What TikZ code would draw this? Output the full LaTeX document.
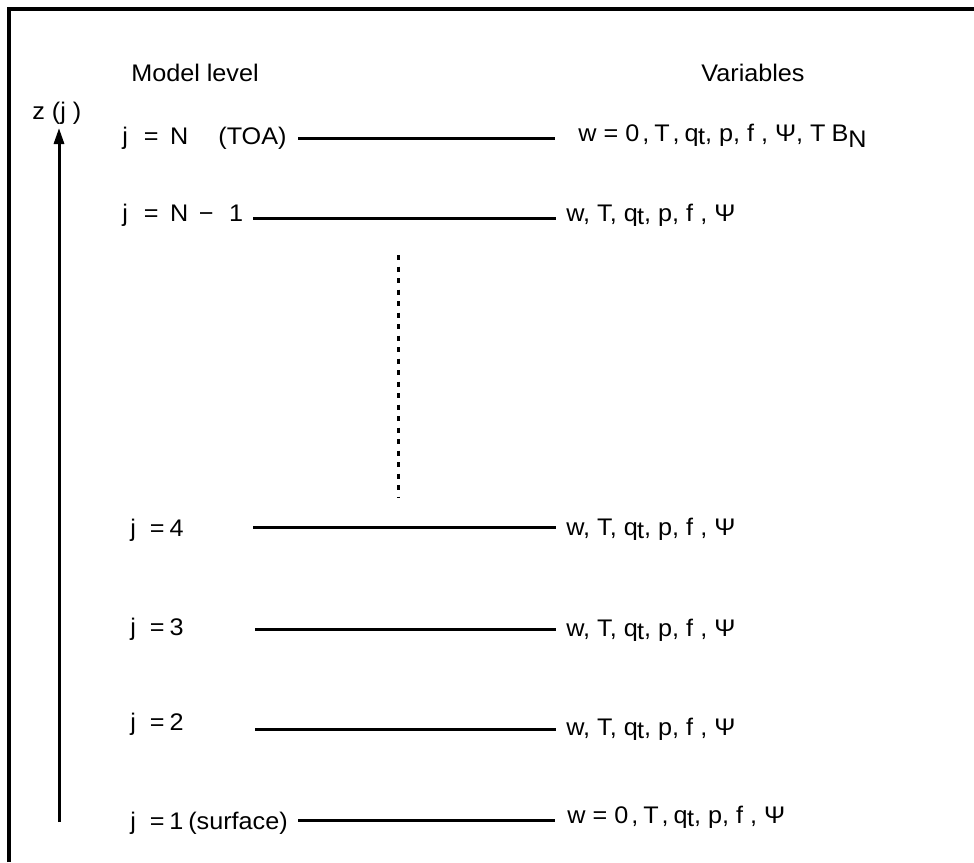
\documentclass[tikz,border=0pt]{standalone}
\usepackage{fontspec}
\setmainfont{Liberation Sans}[FakeStretch=1.05]
\usetikzlibrary{arrows.meta}

\tikzset{
  txt/.style={inner sep=0pt, anchor=base west, font=\fontsize{12pt}{14pt}\selectfont},
  level/.style={line width=1.5pt},
}
\newcommand{\qtsym}{q\kern-0.3pt\raisebox{-1.5pt}{t}}

\begin{document}
\begin{tikzpicture}[x=0.5pt, y=-0.5pt]
			\useasboundingbox (0,0) rectangle (974,862);
			% Frame (cut at right and bottom)
			\draw[line width=1.75pt] (9,862) -- (9,9) -- (974,9);
			% Headings
			\node[txt, anchor=base] (hlev) at (195,81) {Model level};
			\node[txt, anchor=base] (hvar) at (753,81) {Variables};
			% Height axis
			\node[txt] (zj) at (32,119) {z (j )};
			\coordinate (zbot) at (59,822);
			\coordinate (ztop) at (59,128);
			\draw[line width=1.5pt, -{Triangle[length=8pt, width=5pt]}] (zbot) -- (ztop);
			% Level N (top of atmosphere)
			\node[txt] (labN) at (122,144) {j\hspace{8pt}=\hspace{5.75pt}N\hspace{15pt}(TOA)};
			\node[txt] (varN) at (578,141) {w = 0\kern1.5pt,\kern2.5pt T\kern1.5pt,\kern2.5pt \qtsym, p, f , Ψ, T\kern3pt B\raisebox{-3pt}{N}};
			\coordinate (aN) at (298,138);
			\coordinate (bN) at (555,138);
			\draw[level] (aN) -- (bN);
			% Level N-1
			\node[txt] (labM) at (122,221) {j\hspace{8pt}=\hspace{5.75pt}N\hspace{5.2pt}−\hspace{7.8pt}1};
			\node[txt] (varM) at (566,221) {w, T, \qtsym, p, f , Ψ};
			\coordinate (aM) at (253,218);
			\coordinate (bM) at (556,218);
			\draw[level] (aM) -- (bM);
			% Levels in between
			\coordinate (dtop) at (398,255);
			\coordinate (dbot) at (398,498);
			\draw[line width=1.5pt, dash pattern=on 2.5pt off 3.25pt] (dtop) -- (dbot);
			% Level 4
			\node[txt] (lab4) at (130,536) {j\hspace{7pt}=\hspace{2.5pt}4};
			\node[txt] (var4) at (566,535) {w, T, \qtsym, p, f , Ψ};
			\coordinate (a4) at (253,527);
			\coordinate (b4) at (556,527);
			\draw[level] (a4) -- (b4);
			% Level 3
			\node[txt] (lab3) at (130,635) {j\hspace{7pt}=\hspace{2.5pt}3};
			\node[txt] (var3) at (566,636) {w, T, \qtsym, p, f , Ψ};
			\coordinate (a3) at (255,629);
			\coordinate (b3) at (556,629);
			\draw[level] (a3) -- (b3);
			% Level 2
			\node[txt] (lab2) at (130,730) {j\hspace{7pt}=\hspace{2.5pt}2};
			\node[txt] (var2) at (566,735) {w, T, \qtsym, p, f , Ψ};
			\coordinate (a2) at (255,729);
			\coordinate (b2) at (556,729);
			\draw[level] (a2) -- (b2);
			% Level 1 (surface)
			\node[txt] (lab1) at (130,829) {j\hspace{7pt}=\hspace{2.3pt}1\hspace{2.5pt}(surface)};
			\node[txt] (var1) at (567,823) {w = 0\kern1.5pt,\kern2.5pt T\kern1.5pt,\kern2.5pt \qtsym, p, f , Ψ};
			\coordinate (a1) at (298,820);
			\coordinate (b1) at (555,820);
			\draw[level] (a1) -- (b1);
		\end{tikzpicture}
\end{document}
